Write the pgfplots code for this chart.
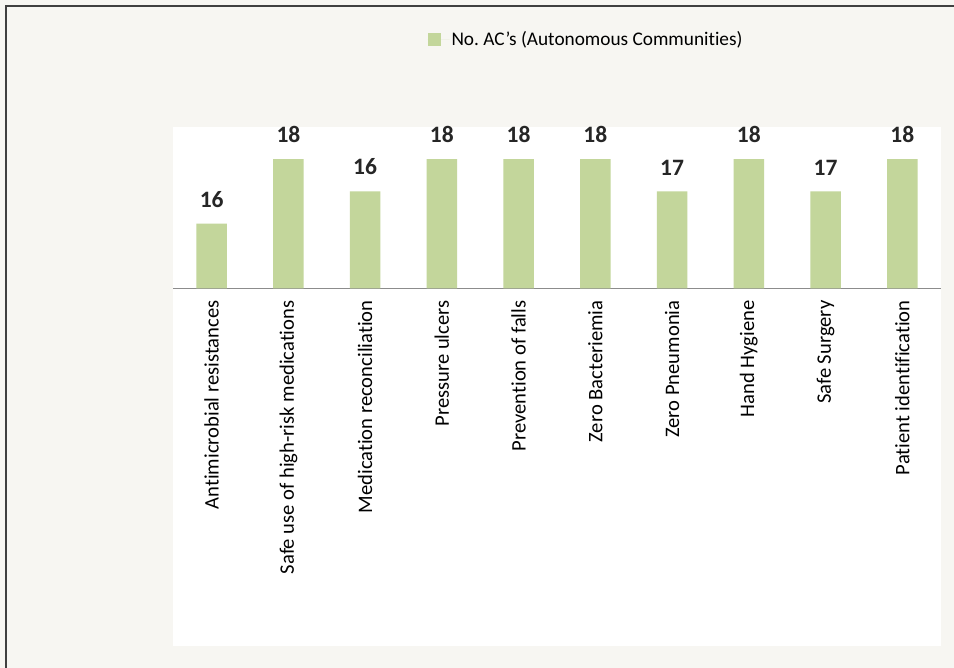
\documentclass[border=0pt]{standalone}
\usepackage{pgfplots}
\pgfplotsset{compat=1.18}
\usepackage{pgfplotstable}
\usepackage{fontspec}
\setmainfont{Carlito}[Ligatures=NoCommon]
\frenchspacing
\definecolor{barg}{HTML}{C3D69B}
\definecolor{outerbg}{HTML}{F7F6F2}
\definecolor{framec}{HTML}{404040}
\definecolor{axisc}{HTML}{8C8C8C}
\pgfplotstableread{
x y lab
0 16 16
1 18 18
2 17 16
3 18 18
4 18 18
5 18 18
6 17 17
7 18 18
8 17 17
9 18 18
}\datatable
\begin{document}
\begin{tikzpicture}
\useasboundingbox (0,0) rectangle (954bp,668bp);
\fill[outerbg] (0,0) rectangle (954bp,668bp);
\fill[white] (173.3bp,22.3bp) rectangle (940.7bp,541.3bp);
\draw[framec, line width=2bp] (6.3bp,0) -- (6.3bp,662bp) -- (954bp,662bp);
\begin{axis}[
  at={(173.3bp,379.7bp)}, anchor=south west,
  scale only axis, width=767.4bp, height=161.6bp,
  xmin=-0.5, xmax=9.5, ymin=14, ymax=19,
  axis x line*=bottom, axis y line=none,
  axis line style={axisc, line width=1.5bp},
  ytick=\empty,
  xtick=data,
  xticklabels={Antimicrobial resistances, Safe use of high-risk medications, Medication reconciliation, Pressure ulcers, Prevention of falls, Zero Bacteriemia, Zero Pneumonia, Hand Hygiene, Safe Surgery, Patient identification},
  major tick length=0pt,
  x tick label style={rotate=90, anchor=east, inner sep=0pt, font=\fontsize{20.6bp}{24bp}\selectfont},
  xticklabel shift=12bp,
  ybar, bar width=30.5bp,
  nodes near coords={\pgfplotspointmeta},
  point meta=explicit symbolic,
  nodes near coords style={font=\bfseries\fontsize{23.5bp}{28bp}\selectfont, anchor=south, inner sep=0pt, yshift=16bp, text=black!85},
  legend style={at={(0.331,1.54)}, anchor=west, draw=none, fill=none, inner sep=0pt, font=\fontsize{19.3bp}{23bp}\selectfont},
  legend image code/.code={\fill[barg] (0bp,-6.5bp) rectangle (13bp,6.5bp); \path (0bp,0bp) -- (22bp,0bp);},
]
\addplot[fill=barg, draw=none] table[x=x, y=y, meta=lab] {\datatable};
\addlegendentry{No. AC’s (Autonomous Communities)}
\end{axis}
\end{tikzpicture}
\end{document}
